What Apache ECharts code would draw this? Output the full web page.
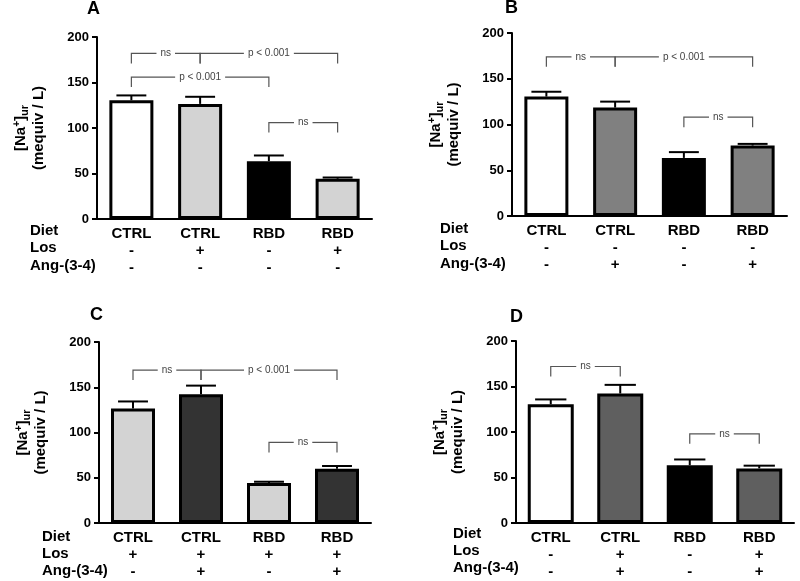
<!DOCTYPE html>
<html>
<head>
<meta charset="utf-8">
<script src="https://cdn.jsdelivr.net/npm/echarts@6/dist/echarts.min.js"></script>
<style>html,body{margin:0;padding:0;background:#fff}#c{width:800px;height:581px}</style>
</head>
<body>
<div id="c"></div>
<script>
// ---------- data ----------
const categories = ['CTRL', 'CTRL', 'RBD', 'RBD'];
const rowTitles = ['Diet', 'Los', 'Ang-(3-4)'];
const panelLetters = ['A', 'B', 'C', 'D'];

const losA = ['-', '+', '-', '+'];
const angA = ['-', '-', '-', '-'];
const losB = ['-', '-', '-', '-'];
const angB = ['-', '+', '-', '+'];
const losC = ['+', '+', '+', '+'];
const angC = ['-', '+', '-', '+'];
const losD = ['-', '+', '-', '+'];
const angD = ['-', '+', '-', '+'];

const valuesA = [130.5, 126.5, 63.5, 44.2];
const semA = [5.3, 7.8, 6.3, 1.4];
const valuesB = [130.5, 118.5, 63.5, 77];
const semB = [5.3, 6.5, 6.3, 1.8];
const valuesC = [126.5, 142.3, 44.2, 60];
const semC = [7.8, 9.5, 1.4, 3];
const valuesD = [130.5, 142.3, 63.5, 60];
const semD = [5.3, 9.5, 6.3, 3];

// brackets: [fromIndex, toIndex, level, label]
const bracketsA = [[0, 1, 182, 'ns'], [1, 3, 182, 'p < 0.001'], [0, 2, 156, 'p < 0.001'], [2, 3, 106, 'ns']];
const bracketsB = [[0, 1, 174, 'ns'], [1, 3, 174, 'p < 0.001'], [2, 3, 108, 'ns']];
const bracketsC = [[0, 1, 169, 'ns'], [1, 3, 169, 'p < 0.001'], [2, 3, 89, 'ns']];
const bracketsD = [[0, 1, 172, 'ns'], [2, 3, 98, 'ns']];

const yMin = 0, yMax = 200, yInterval = 50;

// ---------- styles ----------
const colorsA = ['#ffffff', '#d3d3d3', '#000000', '#d3d3d3'];
const colorsB = ['#ffffff', '#808080', '#000000', '#808080'];
const colorsC = ['#d3d3d3', '#333333', '#d3d3d3', '#333333'];
const colorsD = ['#ffffff', '#5f5f5f', '#000000', '#5f5f5f'];

const FONT = '"Liberation Sans", Arial, Helvetica, sans-serif';

const panels = [
  { values: valuesA, sem: semA, los: losA, ang: angA, colors: colorsA, brackets: bracketsA,
    grid: { left: 97, top: 37, width: 275, height: 182 }, barWidth: 44,
    letter: [94, 10], rows: [30, 232, 249, 267] },
  { values: valuesB, sem: semB, los: losB, ang: angB, colors: colorsB, brackets: bracketsB,
    grid: { left: 512, top: 33, width: 275, height: 183 }, barWidth: 44,
    letter: [512, 9], rows: [440, 230, 247, 265] },
  { values: valuesC, sem: semC, los: losC, ang: angC, colors: colorsC, brackets: bracketsC,
    grid: { left: 99, top: 342, width: 272, height: 181 }, barWidth: 44,
    letter: [97, 316], rows: [42, 538, 555, 572] },
  { values: valuesD, sem: semD, los: losD, ang: angD, colors: colorsD, brackets: bracketsD,
    grid: { left: 516, top: 341, width: 278, height: 182 }, barWidth: 46,
    letter: [517, 318], rows: [453, 535, 552, 569] }
];

const chart = echarts.init(document.getElementById('c'), null, { renderer: 'canvas' });

const grids = [], xAxes = [], yAxes = [], series = [], graphics = [];

panels.forEach((p, i) => {
  grids.push(Object.assign({ containLabel: false }, p.grid));
  xAxes.push({
    type: 'category', gridIndex: i, data: categories,
    axisLine: { lineStyle: { color: '#000', width: 2 } },
    axisTick: { show: false },
    axisLabel: {
      margin: 6, color: '#000', fontFamily: FONT, fontWeight: 'bold', fontSize: 15, lineHeight: 17,
      interval: 0,
      formatter: (v, idx) => v + '\n' + p.los[idx] + '\n' + p.ang[idx]
    },
    splitLine: { show: false }
  });
  yAxes.push({
    type: 'value', gridIndex: i, min: yMin, max: yMax, interval: yInterval,
    axisLine: { show: true, lineStyle: { color: '#000', width: 2 } },
    axisTick: { show: true, length: 5, lineStyle: { color: '#000', width: 2 } },
    axisLabel: { margin: 8, color: '#000', fontFamily: FONT, fontWeight: 'bold', fontSize: 13 },
    splitLine: { show: false },
    name: '{t|[Na}{sup|+}{t|]}{sub|ur}\n{t|(mequiv / L)}',
    nameLocation: 'middle', nameRotate: 90, nameGap: 49,
    nameTextStyle: {
      color: '#000', fontFamily: FONT, fontWeight: 'bold', fontSize: 15, lineHeight: 18,
      rich: {
        t: { fontFamily: FONT, fontWeight: 'bold', fontSize: 15, lineHeight: 18, color: '#000' },
        sup: { fontFamily: FONT, fontWeight: 'bold', fontSize: 10, lineHeight: 18, verticalAlign: 'top', padding: [0, 0, 6, 0], color: '#000' },
        sub: { fontFamily: FONT, fontWeight: 'bold', fontSize: 11, lineHeight: 18, verticalAlign: 'bottom', padding: [5, 0, 0, 0], color: '#000' }
      }
    }
  });

  series.push({
    type: 'bar', xAxisIndex: i, yAxisIndex: i, barWidth: p.barWidth,
    data: p.values.map((v, k) => ({ value: v, itemStyle: { color: p.colors[k] } })),
    itemStyle: { borderColor: '#000', borderWidth: 3 },
    silent: true, animation: false, z: 2
  });

  // error bars (upper only)
  series.push({
    type: 'custom', xAxisIndex: i, yAxisIndex: i, animation: false, silent: true, z: 1,
    data: p.values.map((v, k) => [k, v, p.sem[k]]),
    encode: { x: 0, y: 1 },
    renderItem: (params, api) => {
      const x = api.value(0), m = api.value(1), e = api.value(2);
      const p0 = api.coord([x, m]);
      const p1 = api.coord([x, m + e]);
      const half = p.barWidth * 0.34;
      return {
        type: 'group',
        children: [
          { type: 'line', shape: { x1: p0[0], y1: p0[1], x2: p1[0], y2: p1[1] }, style: { stroke: '#000', lineWidth: 2 } },
          { type: 'line', shape: { x1: p1[0] - half, y1: p1[1], x2: p1[0] + half, y2: p1[1] }, style: { stroke: '#000', lineWidth: 2 } }
        ]
      };
    }
  });

  // significance brackets
  const drop = 11;
  series.push({
    type: 'custom', xAxisIndex: i, yAxisIndex: i, animation: false, silent: true, z: 5,
    data: p.brackets.map(b => [b[0], b[2]]),
    encode: { x: 0, y: 1 },
    renderItem: (params) => {
      const b = p.brackets[params.dataIndex];
      const pl = chart.convertToPixel({ gridIndex: i }, [b[0], b[2]]);
      const pr = chart.convertToPixel({ gridIndex: i }, [b[1], b[2]]);
      const pd = chart.convertToPixel({ gridIndex: i }, [b[0], b[2] - drop]);
      return {
        type: 'group',
        children: [
          { type: 'polyline', shape: { points: [[pl[0], pd[1]], [pl[0], pl[1]], [pr[0], pr[1]], [pr[0], pd[1]]] },
            style: { stroke: '#555', lineWidth: 1.2, fill: null } },
          { type: 'text', x: (pl[0] + pr[0]) / 2, y: pl[1],
            style: { text: b[3], fill: '#444', fontSize: 10, fontFamily: FONT, align: 'center', verticalAlign: 'middle',
                     backgroundColor: '#fff', padding: [1, 4] } }
        ]
      };
    }
  });

  graphics.push({ type: 'text', left: p.letter[0] - 7, top: p.letter[1] - 10,
    style: { text: panelLetters[i], fill: '#000', font: 'bold 18px ' + FONT } });
  rowTitles.forEach((t, r) => {
    graphics.push({ type: 'text', left: p.rows[0], top: p.rows[r + 1] - 9,
      style: { text: t, fill: '#000', font: 'bold 15px ' + FONT } });
  });
});

chart.setOption({
  animation: false,
  backgroundColor: '#fff',
  grid: grids, xAxis: xAxes, yAxis: yAxes, series: series, graphic: graphics
});
// re-render so brackets use final coordinate systems
chart.setOption({ series: series });
</script>
</body>
</html>
